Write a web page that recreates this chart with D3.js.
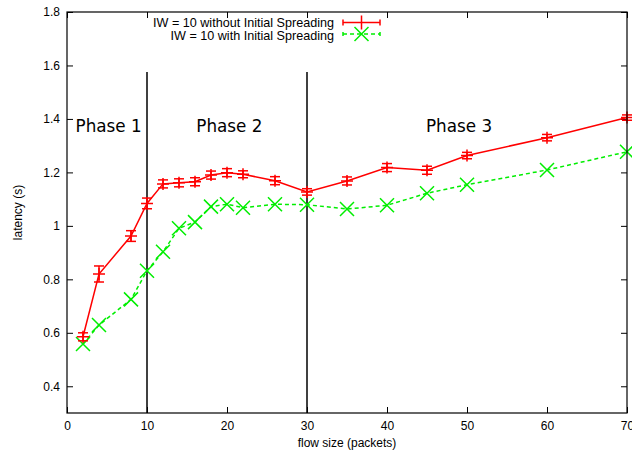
<!DOCTYPE html>
<html><head><meta charset="utf-8">
<script src="https://cdn.jsdelivr.net/npm/d3@7"></script>
<style>body{margin:0;background:#fff}svg{display:block}</style>
</head><body>
<script>
const sizes      = [2, 4, 8, 10, 12, 14, 16, 18, 20, 22, 26, 30, 35, 40, 45, 50, 60, 70];
const noSpread   = [0.585, 0.82, 0.962, 1.084, 1.157, 1.161, 1.165, 1.19, 1.199, 1.193, 1.169, 1.127, 1.168, 1.218, 1.208, 1.263, 1.33, 1.405];
const noSpreadErr= [0.015, 0.03, 0.02, 0.02, 0.015, 0.015, 0.015, 0.015, 0.015, 0.013, 0.015, 0.012, 0.015, 0.015, 0.015, 0.012, 0.012, 0.01];
const withSpread = [0.558, 0.629, 0.725, 0.832, 0.903, 0.991, 1.014, 1.072, 1.081, 1.068, 1.081, 1.079, 1.063, 1.077, 1.122, 1.154, 1.209, 1.277];
const xTicks = [0, 10, 20, 30, 40, 50, 60, 70];
const yTicks = [0.4, 0.6, 0.8, 1.0, 1.2, 1.4, 1.6, 1.8];
const phaseBounds = [10, 30];
const phases = [{label: "Phase 1", x: 5.2}, {label: "Phase 2", x: 20.3}, {label: "Phase 3", x: 49}];
const seriesNames = ["IW = 10 without Initial Spreading", "IW = 10 with Initial Spreading"];

const W = 632, H = 454;
const L = 67, R = 627, T = 12, B = 413;
const svg = d3.select("body").append("svg").attr("width", W).attr("height", H);
const x = d3.scaleLinear().domain([0, 70]).range([L, R]);
const y = d3.scaleLinear().domain([0.3, 1.8]).range([B, T]);
const font = "Liberation Sans, Arial, sans-serif";

// axes (inward ticks, mirrored)
const tk = 6;
const fmt = d => d3.format("")(+d.toFixed(1));
const axB = svg.append("g").attr("transform", `translate(0,${B})`)
  .call(d3.axisBottom(x).tickValues(xTicks).tickSizeInner(-tk).tickSizeOuter(0).tickPadding(8));
const axT = svg.append("g").attr("transform", `translate(0,${T})`)
  .call(d3.axisTop(x).tickValues(xTicks).tickSizeInner(-tk).tickSizeOuter(0).tickFormat(""));
const axL = svg.append("g").attr("transform", `translate(${L},0)`)
  .call(d3.axisLeft(y).tickValues(yTicks).tickSizeInner(-tk).tickSizeOuter(0).tickPadding(8).tickFormat(fmt));
const axR = svg.append("g").attr("transform", `translate(${R},0)`)
  .call(d3.axisRight(y).tickValues(yTicks).tickSizeInner(-tk).tickSizeOuter(0).tickFormat(""));
[axB, axT, axL, axR].forEach(a => {
  a.select(".domain").remove();
  a.selectAll("line").attr("stroke", "#000").attr("stroke-width", 1);
  a.selectAll("text").attr("font-family", font).attr("font-size", 12).attr("fill", "#000");
});
axL.selectAll("text").attr("dx", 1);

// phase separators
svg.selectAll(".phase").data(phaseBounds).enter().append("line")
  .attr("x1", d => x(d)).attr("x2", d => x(d))
  .attr("y1", y(1.576)).attr("y2", B)
  .attr("stroke", "#000").attr("stroke-width", 1.5);
svg.selectAll(".phl").data(phases).enter().append("text")
  .attr("x", d => x(d.x)).attr("y", 132).attr("text-anchor", "middle")
  .attr("font-family", "DejaVu Sans, sans-serif").attr("font-size", 16.8).attr("fill", "#000")
  .text(d => d.label);

// series
const red = "#ff0000", green = "#00ee00";
const line = d3.line().x(d => x(d[0])).y(d => y(d[1]));
const redData = sizes.map((s, i) => [s, noSpread[i], noSpreadErr[i]]);
const greenData = sizes.map((s, i) => [s, withSpread[i]]);

svg.append("path").datum(greenData).attr("d", line).attr("fill", "none")
  .attr("stroke", green).attr("stroke-width", 1.5).attr("stroke-dasharray", "4,3");
const gm = 7;
const gg = svg.append("g").selectAll("g").data(greenData).enter().append("g")
  .attr("transform", d => `translate(${x(d[0])},${y(d[1])})`);
gg.append("path").attr("d", `M${-gm},${-gm}L${gm},${gm}M${-gm},${gm}L${gm},${-gm}`)
  .attr("stroke", green).attr("stroke-width", 1.5);

svg.append("path").datum(redData).attr("d", line).attr("fill", "none")
  .attr("stroke", red).attr("stroke-width", 1.5);
const rg = svg.append("g").selectAll("g").data(redData).enter().append("g");
const cap = 5, rm = 6;
rg.append("line").attr("x1", d => x(d[0])).attr("x2", d => x(d[0]))
  .attr("y1", d => y(d[1] - d[2])).attr("y2", d => y(d[1] + d[2]))
  .attr("stroke", red).attr("stroke-width", 1.5);
rg.append("line").attr("x1", d => x(d[0]) - cap).attr("x2", d => x(d[0]) + cap)
  .attr("y1", d => y(d[1] - d[2])).attr("y2", d => y(d[1] - d[2]))
  .attr("stroke", red).attr("stroke-width", 1.5);
rg.append("line").attr("x1", d => x(d[0]) - cap).attr("x2", d => x(d[0]) + cap)
  .attr("y1", d => y(d[1] + d[2])).attr("y2", d => y(d[1] + d[2]))
  .attr("stroke", red).attr("stroke-width", 1.5);
rg.append("path").attr("d", d => `M${x(d[0]) - rm},${y(d[1])}h${2 * rm}M${x(d[0])},${y(d[1]) - rm}v${2 * rm}`)
  .attr("stroke", red).attr("stroke-width", 1.5);

// frame
svg.append("rect").attr("x", L).attr("y", T).attr("width", R - L).attr("height", B - T)
  .attr("fill", "none").attr("stroke", "#000").attr("stroke-width", 1.2);

// axis titles
svg.append("text").attr("x", (L + R) / 2).attr("y", 447).attr("text-anchor", "middle")
  .attr("font-family", font).attr("font-size", 12).text("flow size (packets)");
svg.append("text").attr("transform", `translate(22,${(T + B) / 2}) rotate(-90)`).attr("text-anchor", "middle")
  .attr("font-family", font).attr("font-size", 12).text("latency (s)");

// legend
const lg = svg.append("g");
lg.append("text").attr("x", 334).attr("y", 26.5).attr("text-anchor", "end")
  .attr("font-family", font).attr("font-size", 12.6).text(seriesNames[0]);
lg.append("text").attr("x", 334).attr("y", 39.5).attr("text-anchor", "end")
  .attr("font-family", font).attr("font-size", 12.6).text(seriesNames[1]);
const ly1 = 22.5, ly2 = 34, lx1 = 343, lx2 = 380, lxm = 361.5;
lg.append("path").attr("d", `M${lx1},${ly1}H${lx2}M${lx1},${ly1 - 3}v6M${lx2},${ly1 - 3}v6M${lxm - rm},${ly1}h${2 * rm}M${lxm},${ly1 - 7}v14`)
  .attr("stroke", red).attr("stroke-width", 1.5).attr("fill", "none");
lg.append("path").attr("d", `M${lx1},${ly2}H${lx2}`).attr("stroke", green).attr("stroke-width", 1.5).attr("stroke-dasharray", "4,3");
lg.append("path").attr("d", `M${lx1},${ly2 - 2}v4M${lx2},${ly2 - 2}v4M${lxm - gm},${ly2 - gm}l${2 * gm},${2 * gm}M${lxm - gm},${ly2 + gm}l${2 * gm},${-2 * gm}`)
  .attr("stroke", green).attr("stroke-width", 1.5);
</script>
</body></html>
